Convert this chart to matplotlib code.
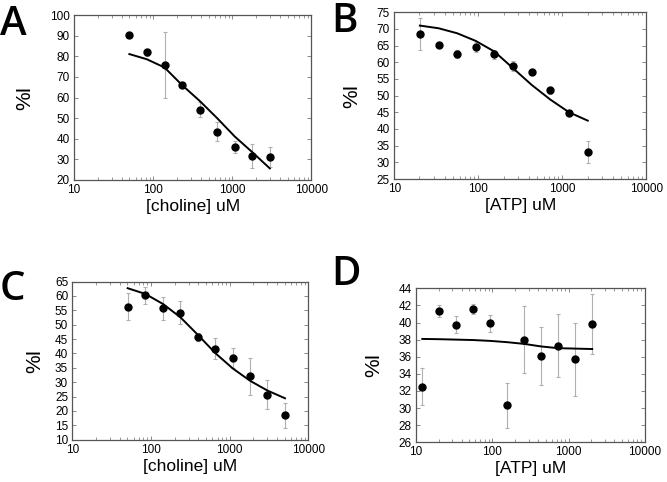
import numpy as np
import matplotlib
matplotlib.use('Agg')
import matplotlib.pyplot as plt

plt.rcParams['font.family'] = ['Liberation Sans', 'DejaVu Sans']

# panel A: choline
a_x = [50, 83, 139, 231, 386, 643, 1072, 1786, 2977]
a_y = [90.3, 81.9, 75.6, 66.1, 54.2, 43.5, 35.9, 31.7, 31.1]
a_err = [1.0, 1.5, 16.0, 1.0, 3.5, 4.5, 3.0, 5.9, 5.0]
a_fit = [81.1, 78.6, 74.6, 66.1, 58.4, 50.0, 41.1, 33.5, 25.6]

# panel B: ATP
b_x = [20.2, 33.7, 56.1, 93.5, 156, 260, 433, 722, 1205, 2009]
b_y = [68.6, 65.3, 62.6, 64.7, 62.4, 59.0, 57.2, 51.6, 44.7, 33.1]
b_err = [4.8, 0.7, 1.2, 1.5, 1.3, 1.5, 0.5, 1.0, 0.5, 3.2]
b_fit = [71.0, 70.2, 68.7, 66.4, 63.2, 58.2, 53.2, 48.8, 45.0, 42.5]

# panel C: choline
c_x = [50.5, 84.8, 142, 236, 396, 657, 1091, 1812, 3011, 5043]
c_y = [56.2, 60.2, 55.8, 54.1, 45.7, 41.7, 38.4, 32.0, 25.7, 18.5]
c_err = [4.7, 3.0, 4.0, 4.0, 1.5, 3.5, 3.5, 6.5, 5.0, 4.3]
c_fit = [62.7, 60.7, 57.2, 52.6, 46.4, 40.1, 34.8, 30.5, 27.1, 24.4]

# panel D: ATP
d_x = [12.1, 20, 33.4, 56.4, 94.2, 157, 262, 438, 732, 1222, 2042]
d_y = [32.5, 41.35, 39.75, 41.6, 39.9, 30.3, 38.0, 36.05, 37.3, 35.7, 39.8]
d_err = [2.2, 0.7, 1.0, 0.6, 1.0, 2.6, 3.9, 3.4, 3.7, 4.3, 3.5]
d_fit = [38.08, 38.05, 38.0, 37.95, 37.85, 37.7, 37.5, 37.2, 37.0, 36.95, 36.9]

panels = [
    ('A', a_x, a_y, a_err, a_fit, '[choline] uM', (20, 100), 10,
     [0.111, 0.6266, 0.356, 0.342], (0.0, 0.99), 11),
    ('B', b_x, b_y, b_err, b_fit, '[ATP] uM', (25, 75), 5,
     [0.591, 0.6286, 0.378, 0.346], (0.496, 0.995), 11),
    ('C', c_x, c_y, c_err, c_fit, '[choline] uM', (10, 65), 5,
     [0.1084, 0.0878, 0.354, 0.328], (0.0, 0.44), 8),
    ('D', d_x, d_y, d_err, d_fit, '[ATP] uM', (26, 44), 2,
     [0.6237, 0.0824, 0.343, 0.3195], (0.496, 0.47), 11),
]

fig = plt.figure(figsize=(6.67, 4.82), dpi=100)

for letter, x, y, err, fit, xlabel, ylim, ystep, rect, lpos, ypad in panels:
    ax = fig.add_axes(rect)
    ax.errorbar(x, y, yerr=err, fmt='none', ecolor='#b0b0b0', elinewidth=0.8,
                capsize=1.5, capthick=0.8, zorder=1)
    ax.plot(x, fit, color='black', lw=1.4, zorder=2)
    ax.plot(x, y, 'o', color='black', ms=5, zorder=3)
    ax.set_xscale('log')
    ax.set_xlim(10, 10000)
    ax.set_ylim(*ylim)
    ax.set_yticks(np.arange(ylim[0], ylim[1] + 0.1, ystep))
    ax.set_xticks([10, 100, 1000, 10000])
    ax.set_xticklabels(['10', '100', '1000', '10000'])
    ax.tick_params(which='both', direction='in', top=True, right=True,
                   color='#888888', labelsize=8.5, pad=3)
    ax.tick_params(which='major', length=3, width=0.7)
    ax.tick_params(which='minor', length=2, width=0.6)
    for s in ax.spines.values():
        s.set_color('#555555')
        s.set_linewidth(0.9)
    ax.set_xlabel(xlabel, fontsize=12.5, labelpad=2)
    ax.set_ylabel('%I', fontsize=15, labelpad=ypad)
    fig.text(lpos[0], lpos[1], letter, fontsize=29, fontweight='semibold',
             family=['Open Sans', 'DejaVu Sans'], ha='left', va='top')

fig.savefig('out.png', dpi=100)
